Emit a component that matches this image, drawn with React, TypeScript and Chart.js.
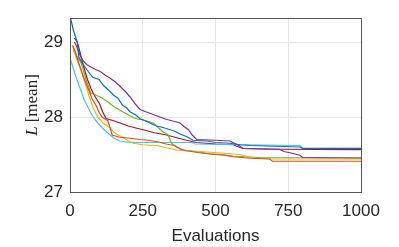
import React, { useEffect, useRef } from "react";
import { Chart, registerables } from "chart.js";

Chart.register(...registerables);

const xTicks = [0, 250, 500, 750, 1000];
const yTicks = [27, 28, 29];
const xTitle = "Evaluations";

const seriesColors = ["#0072BD", "#D95319", "#EDB120", "#7E2F8E", "#77AC30", "#4DBEEE", "#A2142F"];

const blue: [number, number][] = [[0, 29.35], [12, 29.15], [25, 29.0], [30, 28.8], [45, 28.7], [60, 28.62], [78, 28.53], [100, 28.5], [115, 28.42], [135, 28.35], [150, 28.29], [165, 28.25], [180, 28.16], [195, 28.12], [206, 28.07], [225, 28.03], [240, 27.98], [252, 27.96], [270, 27.93], [285, 27.9], [298, 27.88], [320, 27.86], [344, 27.83], [360, 27.81], [380, 27.77], [400, 27.74], [423, 27.69], [470, 27.68], [500, 27.66], [550, 27.65], [584, 27.63], [620, 27.62], [700, 27.61], [790, 27.6], [800, 27.58], [1000, 27.58]];
const orange: [number, number][] = [[10, 28.95], [20, 28.85], [30, 28.72], [45, 28.55], [60, 28.4], [75, 28.25], [90, 28.15], [100, 28.06], [110, 28.0], [130, 27.95], [138, 27.85], [145, 27.76], [170, 27.73], [200, 27.72], [240, 27.7], [270, 27.69], [300, 27.67], [330, 27.64], [360, 27.62], [380, 27.57], [400, 27.55], [450, 27.52], [500, 27.5], [530, 27.49], [560, 27.47], [620, 27.45], [687, 27.44], [695, 27.41], [1000, 27.41]];
const yellow: [number, number][] = [[8, 28.96], [20, 28.8], [30, 28.7], [40, 28.6], [52, 28.45], [66, 28.27], [80, 28.12], [95, 28.0], [113, 27.92], [137, 27.86], [150, 27.8], [165, 27.76], [185, 27.72], [200, 27.68], [218, 27.65], [250, 27.63], [300, 27.62], [330, 27.59], [367, 27.56], [400, 27.55], [447, 27.54], [520, 27.52], [584, 27.5], [610, 27.47], [640, 27.45], [700, 27.44], [1000, 27.44]];
const purple: [number, number][] = [[15, 29.0], [23, 28.94], [35, 28.82], [45, 28.75], [57, 28.7], [75, 28.66], [90, 28.63], [103, 28.61], [120, 28.56], [137, 28.52], [155, 28.47], [172, 28.41], [190, 28.34], [206, 28.27], [225, 28.17], [241, 28.1], [260, 28.07], [275, 28.05], [295, 28.02], [309, 28.0], [330, 27.97], [350, 27.95], [378, 27.92], [393, 27.87], [407, 27.83], [420, 27.76], [435, 27.7], [500, 27.69], [550, 27.68], [580, 27.62], [595, 27.58], [720, 27.57], [735, 27.54], [760, 27.52], [790, 27.49], [800, 27.46], [1000, 27.45]];
const green: [number, number][] = [[10, 28.9], [25, 28.8], [38, 28.72], [48, 28.6], [55, 28.5], [64, 28.4], [72, 28.32], [90, 28.29], [112, 28.25], [134, 28.19], [150, 28.14], [172, 28.09], [195, 28.04], [218, 27.99], [235, 27.97], [252, 27.96], [270, 27.94], [286, 27.92], [300, 27.87], [320, 27.8], [337, 27.76], [349, 27.65], [365, 27.6], [390, 27.56], [430, 27.54], [481, 27.51], [520, 27.5], [560, 27.48], [600, 27.47], [650, 27.46], [1000, 27.455]];
const cyan: [number, number][] = [[0, 28.79], [15, 28.6], [32, 28.41], [50, 28.22], [72, 28.05], [85, 27.97], [100, 27.9], [112, 27.85], [126, 27.8], [150, 27.72], [172, 27.68], [206, 27.66], [420, 27.66], [430, 27.64], [600, 27.63], [790, 27.62], [800, 27.585], [1000, 27.585]];
const red: [number, number][] = [[15, 29.05], [25, 29.0], [32, 28.9], [45, 28.7], [60, 28.5], [72, 28.38], [85, 28.28], [101, 28.18], [112, 28.07], [124, 27.98], [150, 27.95], [172, 27.92], [200, 27.88], [230, 27.85], [252, 27.83], [290, 27.79], [332, 27.76], [370, 27.72], [400, 27.69], [435, 27.66], [500, 27.64], [560, 27.63], [580, 27.6], [596, 27.58], [700, 27.57], [1000, 27.565]];

const allSeries = [blue, orange, yellow, purple, green, cyan, red];

const AXIS_COLOR = "#262626";
const FONT = "'Liberation Sans', Arial, Helvetica, sans-serif";

const yTitlePlugin = {
  id: "yTitleLatex",
  afterDraw(chart: any) {
    const { ctx, chartArea } = chart;
    ctx.save();
    const cy = (chartArea.top + chartArea.bottom) / 2;
    ctx.translate(33, cy);
    ctx.rotate(-Math.PI / 2);
    ctx.fillStyle = AXIS_COLOR;
    ctx.textBaseline = "middle";
    const f1 = "italic 17px 'Liberation Serif', 'DejaVu Serif', serif";
    const f2 = "17px 'Liberation Serif', 'DejaVu Serif', serif";
    ctx.font = f1;
    const w1 = ctx.measureText("L").width;
    ctx.font = f2;
    const t2 = "[mean]";
    const w2 = ctx.measureText(t2).width;
    const x = -(w1 + w2 + 4) / 2;
    ctx.font = f1;
    ctx.textAlign = "left";
    ctx.fillText("L", x, 0);
    ctx.font = f2;
    ctx.fillText(t2, x + w1 + 4, 0);
    ctx.restore();
  },
};

const boxPlugin = {
  id: "boxFrame",
  afterDatasetsDraw(chart: any) {
    const { ctx, chartArea } = chart;
    ctx.save();
    ctx.strokeStyle = "#555555";
    ctx.lineWidth = 1;
    ctx.strokeRect(Math.round(chartArea.left) + 0.5, Math.round(chartArea.top) + 0.5, Math.round(chartArea.right - chartArea.left), Math.round(chartArea.bottom - chartArea.top));
    ctx.restore();
  },
};

export default function App() {
  const ref = useRef<HTMLCanvasElement | null>(null);
  useEffect(() => {
    if (!ref.current) return;
    const chart = new Chart(ref.current, {
      type: "line",
      data: {
        datasets: allSeries.map((s, i) => ({
          data: s.map(([x, y]) => ({ x, y })),
          borderColor: seriesColors[i],
          backgroundColor: seriesColors[i],
          borderWidth: 1.2,
          pointRadius: 0,
          tension: 0,
          fill: false,
        })),
      },
      options: {
        responsive: false,
        animation: false,
        devicePixelRatio: 1,
        layout: { padding: { top: 18, right: 38, left: 0, bottom: 0 } },
        plugins: { legend: { display: false }, tooltip: { enabled: false } },
        scales: {
          x: {
            type: "linear",
            min: 0,
            max: 1000,
            afterBuildTicks: (axis: any) => {
              axis.ticks = xTicks.map((v) => ({ value: v }));
            },
            afterFit: (axis: any) => {
              axis.height = 55;
            },
            grid: { color: "#e5e5e5", drawTicks: false },
            border: { display: false },
            ticks: {
              color: AXIS_COLOR,
              font: { family: FONT, size: 17 },
              padding: 9,
              maxRotation: 0,
              callback: (v: any) => String(v),
            },
            title: { display: true, text: xTitle, color: AXIS_COLOR, font: { family: FONT, size: 17 }, padding: { top: 0, bottom: 0 } },
          },
          y: {
            type: "linear",
            min: 27,
            max: 29.32,
            afterBuildTicks: (axis: any) => {
              axis.ticks = yTicks.map((v) => ({ value: v }));
            },
            afterFit: (axis: any) => {
              axis.width = 70;
            },
            grid: { color: "#e5e5e5", drawTicks: false },
            border: { display: false },
            ticks: { color: AXIS_COLOR, font: { family: FONT, size: 17 }, padding: 7, callback: (v: any) => String(v) },
          },
        },
      },
      plugins: [yTitlePlugin, boxPlugin],
    });
    return () => chart.destroy();
  }, []);
  return (
    <div style={{ position: "fixed", left: 0, top: 0, width: 399, height: 247, background: "#fff" }}>
      <canvas ref={ref} width={399} height={247} />
    </div>
  );
}
